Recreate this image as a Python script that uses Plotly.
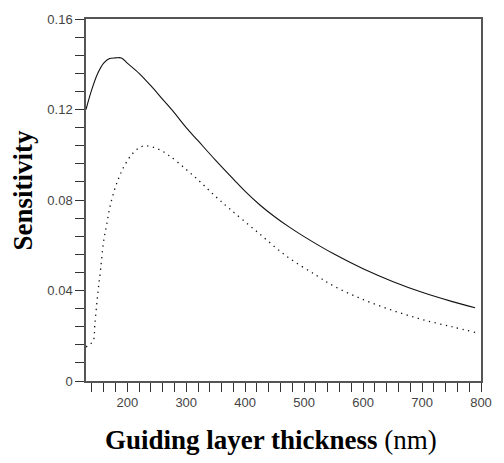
import plotly.graph_objects as go

# Solid curve
solid_x = [130, 140, 150, 160, 170, 180, 190, 200, 220, 240, 260, 280, 300, 320,
           350, 380, 400, 425, 450, 475, 500, 550, 600, 650, 700, 750, 790]
solid_y = [0.120, 0.129, 0.136, 0.1405, 0.1425, 0.1428, 0.1428, 0.1405, 0.1360,
           0.1305, 0.1245, 0.1185, 0.1120, 0.1062, 0.0975, 0.0892, 0.0838, 0.0778,
           0.0726, 0.0680, 0.0638, 0.0562, 0.0496, 0.0440, 0.0392, 0.0352, 0.0324]

# Dotted curve
dot_x = [130, 135, 142, 145, 148, 151, 155, 160, 165, 170, 178, 186, 195, 208, 222,
         233, 250, 270, 300, 325, 350, 375, 420, 470, 520, 550, 600, 650, 700, 750, 790]
dot_y = [0.0150, 0.0160, 0.0175, 0.0250, 0.0335, 0.0410, 0.0500, 0.0620, 0.0690,
         0.0762, 0.0842, 0.0900, 0.0951, 0.1002, 0.1034, 0.1039, 0.1028, 0.0998,
         0.0935, 0.0877, 0.0815, 0.0758, 0.0660, 0.0552, 0.0468, 0.0420, 0.0360,
         0.0312, 0.0272, 0.0240, 0.0215]

x_ticks = [200, 300, 400, 500, 600, 700, 800]
y_ticks = [0, 0.04, 0.08, 0.12, 0.16]
y_tick_labels = ["0", "0.04", "0.08", "0.12", "0.16"]

fig = go.Figure()
fig.add_trace(go.Scatter(x=solid_x, y=solid_y, mode="lines",
                         line=dict(color="#111", width=1.1), line_shape="spline",
                         showlegend=False))
fig.add_trace(go.Scatter(x=dot_x, y=dot_y, mode="lines",
                         line=dict(color="#111", width=1.3, dash="1.3px,4.5px"),
                         line_shape="spline", showlegend=False))

axis_common = dict(showgrid=False, zeroline=False, showline=True, linecolor="#555",
                   linewidth=1.5, mirror=True, ticks="outside", ticklen=9,
                   tickwidth=1.3, tickcolor="#333",
                   tickfont=dict(family="Liberation Sans", size=13, color="#444"))

fig.update_xaxes(range=[130, 800], tickvals=x_ticks, ticktext=[str(v) for v in x_ticks],
                 minor=dict(tick0=0, dtick=20, ticks="outside", ticklen=9,
                            tickwidth=1.3, tickcolor="#333"),
                 **axis_common)
fig.update_yaxes(range=[0, 0.16], tickvals=y_ticks, ticktext=y_tick_labels,
                 minor=dict(tick0=0, dtick=0.008, ticks="outside", ticklen=9,
                            tickwidth=1.3, tickcolor="#333"),
                 **axis_common)

fig.update_layout(
    width=504, height=463,
    margin=dict(l=86, r=14, t=15, b=82),
    paper_bgcolor="white", plot_bgcolor="white",
    annotations=[
        dict(text="<b>Guiding layer thickness</b> (nm)", xref="paper", yref="paper",
             x=(275 - 86) / 404, y=(381 - 441) / 366, xanchor="center", yanchor="middle",
             showarrow=False, font=dict(family="Liberation Serif", size=27, color="#000")),
        dict(text="<b>Sensitivity</b>", xref="paper", yref="paper",
             x=(22 - 86) / 404, y=(381 - 188) / 366, xanchor="center", yanchor="middle",
             textangle=-90, showarrow=False,
             font=dict(family="Liberation Serif", size=27, color="#000")),
    ],
)

fig.write_html("out.html", config={"displayModeBar": False},
               post_script="document.body.style.margin='0';document.body.style.overflow='hidden';")
